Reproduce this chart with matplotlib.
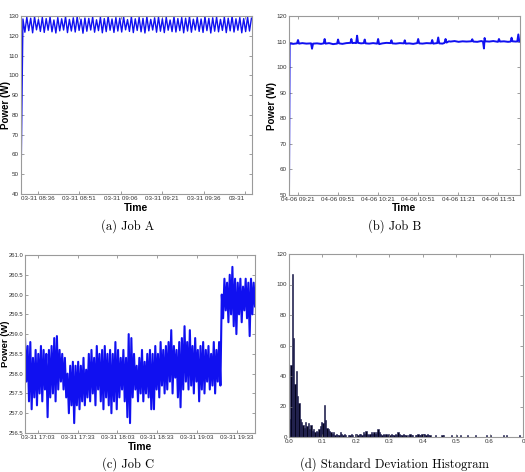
import numpy as np
import matplotlib
matplotlib.use("Agg")
import matplotlib.pyplot as plt

# ---- Job A: minutes after 08:30, one sample every 0.7 min ----
a_power = [45,
    128.5, 121.8, 129.4, 122.6, 128.9, 121.5, 129.6, 123.0, 128.2, 122.2,
    129.3, 121.7, 128.7, 122.8, 129.5, 122.0, 128.0, 121.4, 129.2, 122.5,
    128.6, 122.9, 129.7, 121.6, 128.3, 122.4, 129.1, 121.9, 129.6, 122.7,
    128.4, 121.3, 129.0, 122.3, 128.8, 122.9, 129.5, 121.8, 128.1, 122.6,
    129.4, 121.5, 128.7, 122.1, 129.8, 122.8, 128.5, 121.7, 129.2, 122.4,
    128.9, 121.9, 129.5, 123.0, 128.2, 122.2, 129.6, 121.6, 128.6, 122.7,
    129.3, 122.0, 128.8, 121.4, 129.7, 122.5, 128.3, 122.9, 129.1, 121.8,
    129.5, 122.3, 128.6, 121.6, 129.4, 122.8, 128.0, 122.1, 129.6, 121.9,
    128.7, 122.6, 129.2, 121.5, 128.9, 122.4, 129.7, 121.8, 128.4, 122.9,
    129.3, 122.2, 128.5, 121.7, 129.6, 122.6, 128.8, 121.4, 129.1, 122.3,
    129.5, 122.0, 128.3, 122.7, 129.4, 121.6, 128.9, 122.5, 129.8, 121.9,
    128.6, 122.8, 129.2, 121.5, 128.7, 122.1, 129.5, 122.4, 128.9]
a_step = 0.7
a_ticks = [6, 21, 36, 51, 66, 81]
a_labels = ["03-31 08:36", "03-31 08:51", "03-31 09:06", "03-31 09:21",
            "03-31 09:36", "03-31"]

# ---- Job B: minutes after 09:14 ----
b_time = [0, 0.5, 3, 6, 6.75, 7.5, 10, 13, 16.5, 17.25, 18, 21, 24, 26, 26.7,
          27.4, 30, 33, 36, 36.75, 37.5, 40, 43, 46, 46.7, 47.4, 49, 50.3, 51,
          51.7, 54, 56, 56.7, 57.4, 60, 63, 66, 66.75, 67.5, 70, 73, 76, 76.7,
          77.4, 80, 83, 86, 86.7, 87.4, 90, 93, 96, 96.75, 97.5, 100, 103,
          106.5, 107.25, 108, 111, 111.75, 112.5, 115, 116.5, 117.25, 118,
          119.7, 121, 124, 127, 130, 133, 136.5, 137.25, 138, 141, 144, 145.3,
          146, 146.5, 147, 150, 153, 156.5, 157.25, 158, 161, 164, 166, 166.7,
          167.4, 170, 171, 171.75, 172.5, 173]
b_power = [50, 109.3, 109.1, 109.3, 110.6, 109.2, 109.4, 109.2, 109.3, 107.2,
           109.2, 109.3, 109.1, 109.3, 111.0, 109.2, 109.4, 109.0, 109.2, 110.8,
           109.3, 109.1, 109.4, 109.5, 111.0, 109.4, 109.5, 109.4, 112.3, 109.5,
           109.3, 109.4, 110.8, 109.3, 109.2, 109.4, 109.2, 111.0, 109.0, 109.3,
           109.5, 109.4, 110.5, 109.3, 109.2, 109.4, 109.3, 110.5, 109.2, 109.3,
           109.1, 109.4, 111.0, 109.3, 109.2, 109.4, 109.3, 110.6, 109.2, 109.4,
           111.6, 109.3, 109.2, 109.5, 111.0, 109.6, 110.1, 110.0, 110.2, 109.9,
           110.1, 110.0, 110.1, 110.9, 110.0, 109.9, 110.2, 110.0, 107.3, 111.4,
           110.1, 110.0, 110.2, 109.9, 111.0, 110.0, 110.1, 109.9, 110.0, 111.5,
           110.1, 110.0, 110.1, 112.8, 110.0, 110.1]
b_ticks = [6.75, 36.75, 66.75, 96.75, 126.75, 156.75]
b_labels = ["04-06 09:21", "04-06 09:51", "04-06 10:21", "04-06 10:51",
            "04-06 11:21", "04-06 11:51"]

# ---- Job C: minutes after 16:53.5, one sample per minute ----
c_power = [
    258.9, 257.8, 258.7, 257.3, 258.8, 257.1, 258.4, 257.4, 258.6, 257.2, 258.5, 257.5,
    258.7, 257.3, 258.6, 257.6, 258.5, 256.9, 258.6, 257.4, 258.7, 257.5, 258.9, 257.3,
    258.95, 257.6, 258.6, 257.8, 258.5, 257.6, 258.4, 257.4, 258.0, 257.0, 258.2, 257.2,
    258.3, 256.75, 258.2, 257.2, 258.3, 257.1, 258.2, 257.3, 258.4, 257.2, 258.1, 257.4,
    258.5, 257.3, 258.6, 257.5, 258.4, 257.2, 258.7, 257.6, 258.5, 257.3, 258.6, 257.1,
    258.7, 257.4, 258.5, 257.2, 258.6, 257.0, 258.5, 257.3, 258.8, 257.1, 258.6, 257.4,
    258.4, 257.6, 258.6, 257.3, 258.4, 256.9, 259.0, 256.75, 258.9, 257.4, 258.5, 257.6,
    258.2, 257.3, 258.4, 257.5, 258.6, 257.3, 258.3, 257.5, 258.5, 257.4, 258.6, 257.1,
    258.5, 257.1, 258.7, 257.6, 258.5, 257.4, 258.8, 257.7, 258.6, 257.5, 258.7, 257.6,
    258.8, 257.8, 259.1, 257.5, 258.7, 257.9, 258.6, 257.4, 258.8, 257.15, 258.9, 257.6,
    259.2, 257.8, 258.8, 257.6, 259.1, 257.7, 258.7, 257.5, 258.9, 257.8, 258.6, 257.3,
    258.7, 257.6, 258.8, 257.5, 258.6, 257.8, 258.7, 257.6, 258.5, 257.7, 258.8, 257.5,
    258.6, 257.8, 258.8, 257.7,
    260.0, 259.4, 260.4, 259.6, 260.3, 259.3, 260.5, 259.5, 260.7, 259.2, 260.4, 259.0,
    260.3, 259.5, 260.4, 259.3, 260.2, 259.6, 260.4, 259.4, 260.3, 258.95, 260.4, 259.5,
    260.3, 259.7]
c_ticks = [9.5, 39.5, 69.5, 99.5, 129.5, 159.5]
c_labels = ["03-31 17:03", "03-31 17:33", "03-31 18:03", "03-31 18:33",
            "03-31 19:03", "03-31 19:33"]

# ---- Histogram of standard deviations, bin width 0.004 ----
hist_counts = [
    12, 47, 107, 65, 35, 43, 27, 22, 12, 10, 8, 6, 10, 7, 9, 5, 8, 4, 5, 3, 4, 3, 5, 7, 10,
    9, 21, 11, 6, 5, 4, 3, 2, 3, 1, 2, 1, 1, 3, 2, 1, 2, 1, 0, 1, 1, 2, 1, 0, 2,
    2, 1, 2, 2, 1, 3, 2, 4, 2, 1, 2, 3, 2, 3, 2, 3, 5, 3, 2, 1, 2, 1, 2, 1, 2,
    1, 2, 1, 1, 2, 1, 3, 2, 1, 1, 2, 1, 1, 0, 1, 2, 1, 1, 0, 1, 1, 2, 1, 1, 2,
    2, 2, 1, 2, 1, 1, 0, 0, 0, 1, 0, 0, 0, 0, 1, 1, 0, 0, 0, 0, 0, 1, 0, 0, 0,
    1, 0, 0, 1, 0, 0, 0, 0, 1, 0, 0, 0, 0, 0, 1, 0, 0, 0, 0, 0, 0, 0, 1, 0, 0,
    1, 0, 0, 0, 0, 0, 0, 0, 0, 0, 1, 0, 1, 0, 0, 0, 0, 0, 0, 0, 0, 0, 1, 0, 0]
bin_width = 0.004
d_ticks = [0.0, 0.1, 0.2, 0.3, 0.4, 0.5, 0.6, 0.7]
d_labels = ["0.0", "0.1", "0.2", "0.3", "0.4", "0.5", "0.6", "0"]

plt.rcParams['font.family'] = ['Liberation Sans', 'DejaVu Sans']

W, H = 525, 472
fig = plt.figure(figsize=(W / 100, H / 100), dpi=100)


def add_ax(left, top, right, bottom):
    return fig.add_axes([left / W, 1 - bottom / H, (right - left) / W, (bottom - top) / H])


def style(ax):
    for s in ax.spines.values():
        s.set_color('#9a9a9a')
        s.set_linewidth(0.8)
    ax.tick_params(direction='in', length=2.5, width=0.5, color='#777777',
                   labelsize=4.5, labelcolor='#333333', pad=1.5,
                   top=True, right=True)


blue = '#1010f0'

ax_a = add_ax(21, 16, 252, 194)
ax_a.plot(np.arange(len(a_power)) * a_step, a_power, color=blue, lw=1.0)
ax_a.set_xlim(0, 83.5)
ax_a.set_ylim(40, 130)
ax_a.set_yticks(range(40, 131, 10))
ax_a.set_xticks(a_ticks)
ax_a.set_xticklabels(a_labels)
ax_a.get_xticklabels()[-1].set_horizontalalignment('right')

ax_b = add_ax(289, 16, 520, 195)
ax_b.plot(b_time, b_power, color=blue, lw=1.4)
ax_b.set_xlim(0, 173)
ax_b.set_ylim(50, 120)
ax_b.set_yticks(range(50, 121, 10))
ax_b.set_xticks(b_ticks)
ax_b.set_xticklabels(b_labels)

ax_c = add_ax(25, 255, 255, 433)
ax_c.plot(np.arange(len(c_power)), c_power, color=blue, lw=1.5)
ax_c.set_xlim(0, 173)
ax_c.set_ylim(256.5, 261.0)
ax_c.set_yticks(np.arange(256.5, 261.01, 0.5))
ax_c.set_yticklabels([f"{v:.1f}" for v in np.arange(256.5, 261.01, 0.5)])
ax_c.set_xticks(c_ticks)
ax_c.set_xticklabels(c_labels)

ax_d = add_ax(289, 254, 523, 437)
edges = np.arange(len(hist_counts)) * bin_width
ax_d.bar(edges, hist_counts, width=bin_width, align='edge',
         color='#05051e', edgecolor='#1e1e55', lw=0.4)
ax_d.set_xlim(0, 0.7)
ax_d.set_ylim(0, 120)
ax_d.set_yticks(range(0, 121, 20))
ax_d.set_xticks(d_ticks)
ax_d.set_xticklabels(d_labels)

for ax in (ax_a, ax_b, ax_c, ax_d):
    style(ax)
ax_c.tick_params(axis='y', labelsize=4.2, pad=1.2)

for ax, lx, ly, fs in ((ax_a, -0.043, -0.05, 7), (ax_b, -0.052, -0.045, 7),
                       (ax_c, -0.066, -0.05, 6.8)):
    ax.set_ylabel("Power (W)", fontsize=fs, fontweight='bold')
    ax.set_xlabel("Time", fontsize=7.5, fontweight='bold')
    ax.yaxis.set_label_coords(lx, 0.5)
    ax.xaxis.set_label_coords(0.5, ly)

cap = dict(fontsize=9, family='cmr10', ha='center', va='center')
fig.text(128 / W, 1 - 226 / H, "(a) Job A", **cap)
fig.text(395 / W, 1 - 226 / H, "(b) Job B", **cap)
fig.text(128 / W, 1 - 464 / H, "(c) Job C", **cap)
fig.text(395 / W, 1 - 464 / H, "(d) Standard Deviation Histogram", **cap)

fig.savefig("out.png", dpi=100)
